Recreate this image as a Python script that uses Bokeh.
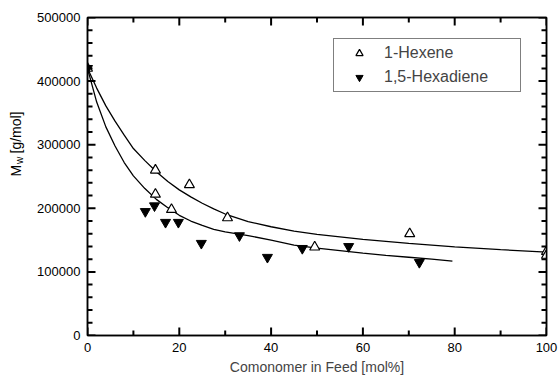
from math import pi
from bokeh.plotting import figure
from bokeh.layouts import row
from bokeh.models import (LinearAxis, Legend, LegendItem, Label, BasicTickFormatter,
                          Range1d, CustomJSTickFormatter)
from bokeh.embed import file_html
from bokeh.resources import INLINE

FONT = "Liberation Sans"

# ---- data ----
hexene_x = [0, 14.8, 14.8, 18.3, 22.2, 30.5, 49.5, 70.2, 100, 100]
hexene_y = [420000, 260000, 222000, 198000, 237000, 185000, 139000, 160000, 132000, 126000]

hexadiene_x = [0, 12.6, 14.6, 17.0, 19.8, 24.8, 33.1, 39.2, 46.8, 56.9, 72.3]
hexadiene_y = [420000, 195000, 204000, 178000, 178000, 145000, 157000, 123000, 137000, 140000, 115000]

# fitted curves
hexene_fit_x = [0, 2, 4, 6, 8, 10, 12.5, 15, 17.5, 20, 22.5, 25, 27.5, 30, 35, 40, 45, 50,
                60, 70, 80, 90, 100]
hexene_fit_y = [420000, 389000, 361000, 337000, 315000, 294000, 275000, 257500, 242000,
                229000, 218000, 208000, 199000, 191000, 179000, 171000, 164000, 159000,
                151000, 145000, 139500, 135000, 131000]

hexadiene_fit_x = [0, 2, 4, 6, 8, 10, 12.5, 15, 17.5, 20, 22.5, 25, 27.5, 30, 35, 40, 45,
                   50, 55, 60, 65, 70, 75, 79.5]
hexadiene_fit_y = [420000, 367000, 328000, 298000, 272000, 251000, 231000, 214000, 201000,
                   189000, 180000, 173000, 167000, 163000, 157000, 150000, 142000, 137500,
                   133500, 129500, 126000, 123000, 120000, 116800]

# axis ticks
x_major = list(range(0, 101, 20))
x_minor = list(range(10, 100, 20))
y_major = list(range(0, 500001, 100000))
y_minor = [v for v in range(0, 500001, 20000) if v % 100000]
X_MIN, X_MAX, Y_MIN, Y_MAX = 0, 100, 0, 500000

LABEL_W = 30
FRAME_W, FRAME_H = 459, 318
PX_X = (X_MAX - X_MIN) / FRAME_W
PX_Y = (Y_MAX - Y_MIN) / FRAME_H

p = figure(width=559 - LABEL_W, height=379, x_range=Range1d(X_MIN, X_MAX),
           y_range=Range1d(Y_MIN, Y_MAX),
           output_backend="svg", toolbar_location=None,
           min_border_left=87 - LABEL_W, min_border_right=13, min_border_top=17,
           min_border_bottom=44, x_axis_label="Comonomer in Feed [mol%]")
p.grid.visible = False
p.outline_line_color = "black"
p.outline_line_width = 1.5
p.background_fill_color = "white"
p.border_fill_color = "white"


def style_axis(ax, ticks, labels=True):
    ax.ticker = ticks
    ax.axis_line_color = "black"
    ax.axis_line_width = 1.5
    ax.major_tick_in = 0
    ax.major_tick_out = 0
    ax.minor_tick_in = 0
    ax.minor_tick_out = 0
    if labels:
        ax.major_label_text_font = FONT
        ax.major_label_text_font_size = "13px"
        ax.major_label_text_color = "black"
        ax.major_label_standoff = 7
    else:
        ax.formatter = CustomJSTickFormatter(code="return ''")
        ax.major_label_standoff = 0


style_axis(p.xaxis[0], x_major)
style_axis(p.yaxis[0], y_major)
p.yaxis.formatter = BasicTickFormatter(use_scientific=False)
p.xaxis.axis_label_text_font = FONT
p.xaxis.axis_label_text_font_size = "14px"
p.xaxis.axis_label_text_font_style = "normal"
p.xaxis.axis_label_standoff = 4

top = LinearAxis()
style_axis(top, x_major, labels=False)
p.add_layout(top, "above")
right = LinearAxis()
style_axis(right, y_major, labels=False)
p.add_layout(right, "right")

# inward tick marks drawn as short segments from the frame edges
tick_style = dict(line_color="black", line_width=2)
for xs, ln in ((x_major, 8), (x_minor, 5)):
    n = len(xs)
    p.segment(x0=xs, y0=[Y_MIN] * n, x1=xs, y1=[Y_MIN + ln * PX_Y] * n, **tick_style)
    p.segment(x0=xs, y0=[Y_MAX] * n, x1=xs, y1=[Y_MAX - ln * PX_Y] * n, **tick_style)
for ys, ln in ((y_major, 8), (y_minor, 5)):
    n = len(ys)
    p.segment(x0=[X_MIN] * n, y0=ys, x1=[X_MIN + ln * PX_X] * n, y1=ys, **tick_style)
    p.segment(x0=[X_MAX] * n, y0=ys, x1=[X_MAX - ln * PX_X] * n, y1=ys, **tick_style)

# curves
p.line(hexene_fit_x, hexene_fit_y, line_color="black", line_width=1.3)
p.line(hexadiene_fit_x, hexadiene_fit_y, line_color="black", line_width=1.3)

# markers
r_hex = p.scatter(hexene_x, hexene_y, marker="triangle", size=10,
                  fill_color="white", line_color="black", line_width=1.2)
r_dien = p.scatter(hexadiene_x, hexadiene_y, marker="inverted_triangle", size=10,
                   fill_color="black", line_color="black", line_width=1)

legend = Legend(items=[LegendItem(label="1-Hexene", renderers=[r_hex]),
                       LegendItem(label="1,5-Hexadiene", renderers=[r_dien])],
                location=(246, 243))
legend.label_text_font = FONT
legend.label_text_font_size = "16px"
legend.label_height = 18
legend.glyph_height = 18
legend.glyph_width = 40
legend.padding = 5
legend.spacing = 6
legend.label_standoff = 5
legend.label_width = 131
legend.margin = 0
legend.border_line_color = "black"
legend.border_line_width = 1
legend.background_fill_color = "white"
legend.background_fill_alpha = 1
p.add_layout(legend)

# narrow strip on the left that carries the y axis title  M_w [g/mol]
lab = figure(width=LABEL_W, height=379, x_range=Range1d(0, LABEL_W), y_range=Range1d(0, 379),
             output_backend="svg", toolbar_location=None, x_axis_location=None,
             y_axis_location=None, min_border=0)
lab.grid.visible = False
lab.outline_line_color = None
lab.background_fill_color = "white"
lab.border_fill_color = "white"
common = dict(angle=pi / 2, text_font=FONT, text_align="left", text_baseline="middle",
              text_color="black", x_units="screen", y_units="screen")
lab.add_layout(Label(x=15, y=159, text="M", text_font_size="14px", **common))
lab.add_layout(Label(x=18.5, y=171.5, text="w", text_font_size="10px", **common))
lab.add_layout(Label(x=15, y=182, text="[g/mol]", text_font_size="14px", **common))

layout = row(lab, p, spacing=0)
open("out.html", "w").write(file_html(layout, INLINE))
